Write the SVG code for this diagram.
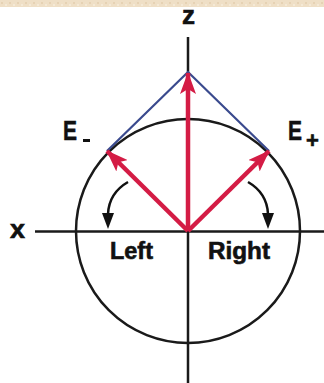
<svg xmlns="http://www.w3.org/2000/svg" width="324" height="383" viewBox="0 0 324 383">
<defs>
<style>
.ax{stroke:#1a1a1a;stroke-width:2.5;fill:none}
.red{stroke:#d41c45;stroke-width:4.5;fill:none}
.blue{stroke:#3a4a8e;stroke-width:2.2;fill:none}
.crv{stroke:#111;stroke-width:2.5;fill:none}
.lbl{font-family:"Liberation Sans",Arial,sans-serif;font-weight:bold;fill:#111;stroke:#111;stroke-width:0.6}
</style>
<marker id="rh" viewBox="0 0 22 16" refX="21" refY="8" markerWidth="22" markerHeight="16" markerUnits="userSpaceOnUse" orient="auto">
<path d="M0,0 L22,8 L0,16 L5,8 Z" fill="#d41c45"/>
</marker>
<pattern id="noise" width="8" height="7" patternUnits="userSpaceOnUse">
<rect width="8" height="7" fill="#efdfc6"/>
<rect x="1" y="2" width="2" height="2" fill="#e6d2b4"/>
<rect x="5" y="4" width="2" height="2" fill="#f4e9d6"/>
</pattern>
</defs>
<rect width="324" height="383" fill="#ffffff"/>
<rect x="0" y="0" width="324" height="7" fill="url(#noise)"/>
<g id="axes">
<line class="ax" x1="35" y1="231.5" x2="324" y2="231.5"/>
<line class="ax" x1="188" y1="37" x2="188" y2="383"/>
<circle class="ax" cx="188" cy="231" r="112"/>
</g>
<g id="connectors">
<polyline class="blue" points="107,151 188,72 269,151"/>
<line class="red" x1="188" y1="231" x2="188" y2="73" marker-end="url(#rh)"/>
<line class="red" x1="188" y1="231" x2="107" y2="151" marker-end="url(#rh)"/>
<line class="red" x1="188" y1="231" x2="269" y2="151" marker-end="url(#rh)"/>
<path class="crv" d="M128,182 Q109,193 108,214"/>
<polygon points="102,213 114,213 108,229" fill="#111"/>
<path class="crv" d="M248,182 Q267,193 268,214"/>
<polygon points="262,213 274,213 268,229" fill="#111"/>
</g>
<g id="labels">
<text class="lbl" x="182" y="24" font-size="26" textLength="13" lengthAdjust="spacingAndGlyphs">z</text>
<text class="lbl" x="10" y="238" font-size="25" textLength="15" lengthAdjust="spacingAndGlyphs">x</text>
<text class="lbl" x="63" y="140" font-size="28" textLength="14" lengthAdjust="spacingAndGlyphs">E</text>
<rect x="83" y="139" width="7" height="3" fill="#111"/>
<text class="lbl" x="288" y="140" font-size="28" textLength="14" lengthAdjust="spacingAndGlyphs">E</text>
<text class="lbl" x="306" y="148" font-size="22">+</text>
<text class="lbl" x="110" y="259" font-size="23" textLength="43" lengthAdjust="spacingAndGlyphs">Left</text>
<text class="lbl" x="208" y="259" font-size="23" textLength="62" lengthAdjust="spacingAndGlyphs">Right</text>
</g>
</svg>
